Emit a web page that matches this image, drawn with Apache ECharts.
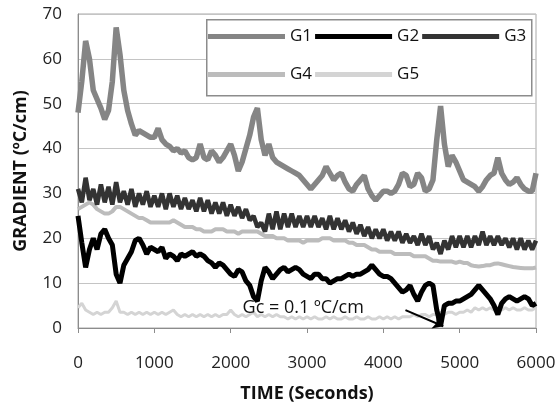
<!DOCTYPE html>
<html>
<head>
<meta charset="utf-8">
<script src="https://cdn.jsdelivr.net/npm/echarts@6/dist/echarts.min.js"></script>
<style>
  html, body { margin: 0; padding: 0; background: #fff; }
  #chart { width: 559px; height: 408px; }
</style>
</head>
<body>
<div id="chart"></div>
<script>
/** 温度梯度曲线 G1-G5 */

// 采样时间 (s)
const times = [
  0, 50, 100, 150, 200, 250, 300, 350, 400, 450,
  500, 550, 600, 650, 700, 750, 800, 850, 900, 950,
  1000, 1050, 1100, 1150, 1200, 1250, 1300, 1350, 1400, 1450,
  1500, 1550, 1600, 1650, 1700, 1750, 1800, 1850, 1900, 1950,
  2000, 2050, 2100, 2150, 2200, 2250, 2300, 2350, 2400, 2450,
  2500, 2550, 2600, 2650, 2700, 2750, 2800, 2850, 2900, 2950,
  3000, 3050, 3100, 3150, 3200, 3250, 3300, 3350, 3400, 3450,
  3500, 3550, 3600, 3650, 3700, 3750, 3800, 3850, 3900, 3950,
  4000, 4050, 4100, 4150, 4200, 4250, 4300, 4350, 4400, 4450,
  4500, 4550, 4600, 4650, 4700, 4750, 4800, 4850, 4900, 4950,
  5000, 5050, 5100, 5150, 5200, 5250, 5300, 5350, 5400, 5450,
  5500, 5550, 5600, 5650, 5700, 5750, 5800, 5850, 5900, 5950,
  6000
]

const g1 = [
  48, 55, 64, 60, 53, 51, 49, 46.5, 48.5, 55,
  67, 61, 53, 48.5, 45.5, 43, 44, 43.5, 43, 42.5,
  42.5, 44.5, 42, 41, 40.5, 39.5, 40, 39, 39.5, 38,
  37.5, 38, 41, 38, 37.5, 39.5, 38.5, 37, 38, 39.5,
  41, 38.5, 35, 37, 40, 43, 47, 49, 42, 38.5,
  41, 38, 37, 36.5, 36, 35.5, 35, 34.5, 34, 33,
  32, 31, 32, 33, 34, 36, 34.5, 33, 34, 34.5,
  32.5, 31, 30.5, 32, 33, 34, 31, 29.5, 28.5, 29.5,
  30.5, 30.5, 30, 30.5, 32, 34.5, 34, 31.5, 32, 34.5,
  33.5, 30.5, 31, 33, 42, 49.5, 41, 36, 38.5, 37,
  35, 33, 32.5, 32, 31.5, 30.5, 31.5, 33, 34, 34.5,
  38, 34.5, 33, 32, 32.5, 33.5, 32, 31, 30.5, 30.5,
  34.5
]

const g2 = [
  25, 19, 13.5, 17.5, 20, 17.5, 21, 22, 20, 18.5,
  12, 10, 14, 15.5, 17, 19.5, 20, 18.5, 16.5, 18,
  17.5, 17, 18, 15.5, 16.5, 16, 15, 16.5, 16, 16.5,
  17, 16, 16.5, 16, 15, 14.5, 13.5, 14.5, 14, 13,
  12, 11.5, 13, 12.5, 10.5, 9.5, 7, 6, 10.5, 13.5,
  12.5, 11, 12, 13, 13.5, 12.5, 13, 13.5, 13, 12,
  11.5, 11, 12, 12, 11, 11, 10, 10.5, 11, 11,
  11.5, 12, 11.5, 12, 12, 12.5, 13, 14, 13, 12,
  11.5, 11.5, 11, 10, 9, 8, 8.5, 9.5, 7.5, 6,
  8, 9.5, 10, 9.5, 4, 0.5, 5, 5.5, 5.5, 6,
  6, 6.5, 7, 7.5, 8.5, 9.5, 8.5, 7.5, 6.5, 5,
  3, 5.5, 6.5, 7, 6.5, 6, 6.5, 7, 6.5, 5,
  5.5
]

const g3 = [
  31, 28, 33.5, 28.5, 31, 27.5, 32, 28, 31.5, 27.5,
  32.5, 28, 30.5, 27.5, 31, 27, 30, 27.5, 30.5, 27,
  29.5, 27, 30, 26.5, 30, 27, 29.5, 26.5, 29, 26.5,
  28.5, 26, 29, 26, 28.5, 25.5, 28, 25.5, 28, 25,
  27.5, 25, 27, 24.5, 26.5, 24, 25, 22.5, 23.5, 21.5,
  25.5, 22, 26, 22, 25.5, 22.5, 25.5, 22.5, 25, 22.5,
  25, 22.5, 25, 22.5, 24.5, 22, 25, 22, 24.5, 22,
  24, 21.5, 23.5, 21, 23, 20.5, 22.5, 20, 22, 20,
  22, 19.5, 21.5, 19.5, 21.5, 19, 21, 19, 20.5, 18.5,
  21, 18.5, 20.5, 17.5, 19, 16.5, 19.5, 17.5, 20.5, 18,
  20.5, 18, 20.5, 18, 20.5, 18.5, 21.5, 18.5, 20.5, 18.5,
  20.5, 18.5, 20, 18, 20, 17.5, 20, 17.5, 19.5, 17.5,
  19.5
]

const g4 = [
  26.5, 27, 27.5, 28, 27.5, 26.5, 26, 25.5, 25.5, 26,
  27, 27, 26.5, 26, 25.5, 25, 24.5, 24.5, 24, 23.5,
  23.5, 23.5, 23.5, 23.5, 23.5, 24, 23.5, 23, 22.5, 22.5,
  22.5, 22, 22, 21.5, 21.5, 21.5, 22, 22, 22, 21.5,
  21.5, 21.5, 21, 21.5, 21.5, 21.5, 21.5, 21.5, 21, 20.5,
  20.5, 20.5, 20, 20, 20, 19.5, 19.5, 19.5, 19.5, 19,
  19.5, 19.5, 19.5, 19.5, 20, 20, 20, 19.5, 19.5, 19.5,
  19.5, 19, 19, 18.5, 18.5, 18.5, 18, 17.5, 17.5, 17,
  17, 17, 17, 16.5, 16.5, 16.5, 16.5, 16.5, 16, 16,
  16, 16, 15.5, 15, 15, 14.8, 14.8, 14.8, 14.8, 14.5,
  14.8, 14.5, 14.5, 14, 13.8, 13.7, 13.8, 14, 14, 14.3,
  14.4, 14.2, 14, 13.8, 13.6, 13.5, 13.4, 13.3, 13.3, 13.3,
  13.5
]

const g5 = [
  4.5, 5.5, 4, 3.5, 3, 3.5, 3, 3.5, 3.5, 4.5,
  6, 3.5, 3.5, 3, 3.5, 3, 3.5, 3, 3.5, 3,
  3.5, 3, 3.5, 3, 3.5, 4, 3, 2.5, 3, 2.5,
  3, 2.5, 3, 2.5, 3, 2.5, 3, 2.5, 3, 3,
  4, 3, 2.5, 3, 2.5, 3, 3.5, 2.5, 3, 2.5,
  3, 2.5, 3, 2.5, 2.5, 2, 2.5, 2, 2.5, 2,
  2.5, 2, 2.5, 2, 2, 2.5, 2, 2.5, 2, 2,
  2.5, 2, 2, 2.5, 2, 2, 2.5, 2, 2, 2.5,
  2, 2.5, 2, 2.5, 2, 2.5, 2.5, 2.5, 3, 2.5,
  3, 3, 2.5, 3, 3, 3.5, 3, 3.5, 3.5, 3,
  3.5, 3.5, 4, 3.5, 4.5, 4, 4.5, 4, 4.5, 4,
  4.5, 4, 4.5, 4, 4.5, 4, 4, 4.5, 4, 4,
  4.5
]

// 注释: 临界梯度
const noteText = "Gc = 0.1 ºC/cm"
const notePos = [2150, 4.4]
const arrowFrom = [4290, 4.0]
const arrowTo = [4785, 0.4]

const FONT = "Open Sans"

function pairs(vals){
    return times.map((t, i) => [t, vals[i]])
}

function lineSeries(name, vals, color, width){
    return {
        name: name,
        type: "line",
        data: pairs(vals),
        symbol: "none",
        lineStyle: { color: color, width: width },
        itemStyle: { color: color },
        z: 2
    }
}

function legendRow(names, top){
    return {
        data: names.map(n => ({ name: n, icon: "rect" })),
        left: 208, top: top,
        padding: 0,
        itemWidth: 77, itemHeight: 5, itemGap: 3,
        textStyle: { fontFamily: FONT, fontSize: 17, color: "#111" },
        z: 4
    }
}

let chart = echarts.init(document.getElementById("chart"), null, { renderer: "canvas" })

let s2 = lineSeries("G2", g2, "#000000", 5)
s2.markLine = {
    silent: true,
    symbol: ["none", "arrow"],
    symbolSize: 10,
    lineStyle: { color: "#000", width: 2, type: "solid" },
    label: { show: false },
    data: [[{ coord: arrowFrom }, { coord: arrowTo }]]
}
s2.markPoint = {
    silent: true,
    symbol: "circle",
    symbolSize: 1,
    itemStyle: { color: "rgba(0,0,0,0)" },
    label: {
        show: true,
        position: "right",
        distance: 0,
        formatter: noteText,
        fontFamily: FONT,
        fontSize: 18,
        color: "#111"
    },
    data: [{ coord: notePos }]
}

let option = {
    animation: false,
    backgroundColor: "#fff",
    grid: {
        left: 78, right: 23, top: 14, bottom: 78,
        show: true, borderColor: "#a8a8a8", borderWidth: 1
    },
    graphic: [{
        type: "rect",
        left: 206, top: 19,
        shape: { width: 325, height: 76 },
        style: { fill: "#fff", stroke: "#8c8c8c", lineWidth: 1.5 },
        z: 3
    }],
    legend: [legendRow(["G1", "G2", "G3"], 28), legendRow(["G4", "G5"], 66)],
    xAxis: {
        type: "value",
        min: 0, max: 6000, interval: 1000,
        name: "TIME (Seconds)",
        nameLocation: "middle",
        nameGap: 57,
        nameTextStyle: { fontFamily: FONT, fontSize: 18, fontWeight: "bold", color: "#111" },
        axisLine: { show: true, lineStyle: { color: "#8c8c8c" } },
        axisTick: { show: true, length: 5, lineStyle: { color: "#8c8c8c" } },
        axisLabel: {
            fontFamily: FONT, fontSize: 17, color: "#222", margin: 27,
            formatter: v => String(v)
        },
        splitLine: { show: false }
    },
    yAxis: {
        type: "value",
        min: 0, max: 70, interval: 10,
        name: "GRADIENT (ºC/cm)",
        nameLocation: "middle",
        nameGap: 48,
        nameTextStyle: { fontFamily: FONT, fontSize: 18, fontWeight: "bold", color: "#111" },
        axisLine: { show: true, lineStyle: { color: "#8c8c8c" } },
        axisTick: { show: false },
        axisLabel: { fontFamily: FONT, fontSize: 17, color: "#222", margin: 16 },
        splitLine: { show: true, lineStyle: { color: "#c4c4c4", width: 1 } }
    },
    series: [
        lineSeries("G5", g5, "#d4d4d4", 3),
        lineSeries("G4", g4, "#bcbcbc", 4),
        lineSeries("G3", g3, "#333333", 4.5),
        lineSeries("G1", g1, "#858585", 5.5),
        s2
    ]
}

chart.setOption(option)
</script>
</body>
</html>
